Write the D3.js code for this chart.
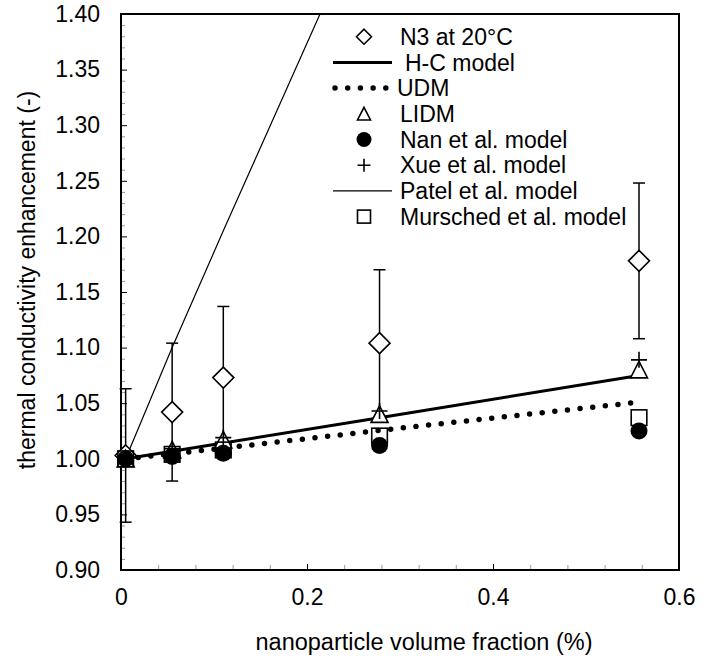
<!DOCTYPE html>
<html>
<head>
<meta charset="utf-8">
<script src="https://cdn.jsdelivr.net/npm/d3@7"></script>
<style>
  html, body { margin: 0; padding: 0; background: #fff; }
  svg { display: block; font-family: "Liberation Sans", Arial, sans-serif; }
</style>
</head>
<body>
<svg id="chart" width="715" height="660"></svg>
<script>
// ---- data ----
const xFrac   = [0.005, 0.055, 0.11, 0.278, 0.557];
const n3      = [1.003, 1.042, 1.073, 1.104, 1.178];
const n3Err   = [0.060, 0.062, 0.064, 0.066, 0.070];
const hcModel = [1.000, 1.0068, 1.0142, 1.037, 1.075];
const udm     = [1.000, 1.0046, 1.0096, 1.0255, 1.051];
const lidm    = [1.000, 1.008, 1.017, 1.040, 1.080];
const nanModel  = [1.000, 1.002, 1.005, 1.012, 1.025];
const xueModel  = [1.000, 1.009, 1.019, 1.043, 1.089];
const patelModel = [1.000, 1.100, 1.205, 1.520, 2.030];
const murshedModel = [1.000, 1.004, 1.008, 1.0205, 1.037];

const xTicks = [0, 0.2, 0.4, 0.6];
const yTicks = [0.90, 0.95, 1.00, 1.05, 1.10, 1.15, 1.20, 1.25, 1.30, 1.35, 1.40];
const legendLabels = ["N3 at 20°C", "H-C model", "UDM", "LIDM", "Nan et al. model",
                      "Xue et al. model", "Patel et al. model", "Mursched et al. model"];
const xTitle = "nanoparticle volume fraction (%)";
const yTitle = "thermal conductivity enhancement (-)";

// ---- layout ----
const svg = d3.select("#chart");
const L = 121, R = 679, T = 14, B = 570;
const x = d3.scaleLinear().domain([0, 0.6]).range([L, R]);
const y = d3.scaleLinear().domain([0.9, 1.4]).range([B, T]);
const FS = 23;
const FF = "Liberation Sans, Arial, sans-serif";

svg.append("defs").append("clipPath").attr("id", "plotclip")
  .append("rect").attr("x", L).attr("y", T).attr("width", R - L).attr("height", B - T);

// minor ticks
const xMinor = d3.range(1, 15).map(i => i * 0.04).filter(v => Math.abs(v / 0.2 - Math.round(v / 0.2)) > 1e-6);
const yMinor = d3.range(0, 51).map(i => 0.9 + i * 0.01).filter(v => Math.abs(v / 0.05 - Math.round(v / 0.05)) > 1e-6);

svg.append("g").attr("transform", `translate(0,${B})`)
  .call(d3.axisBottom(x).tickValues(xMinor).tickSize(-5).tickFormat(""))
  .call(g => g.select(".domain").remove())
  .call(g => g.selectAll("line").attr("stroke", "#999").attr("stroke-width", 1));
svg.append("g").attr("transform", `translate(${L},0)`)
  .call(d3.axisLeft(y).tickValues(yMinor).tickSize(-4).tickFormat(""))
  .call(g => g.select(".domain").remove())
  .call(g => g.selectAll("line").attr("stroke", "#999").attr("stroke-width", 1));

// major ticks + labels
svg.append("g").attr("transform", `translate(0,${B})`)
  .call(d3.axisBottom(x).tickValues(xTicks).tickSize(-6).tickPadding(19).tickFormat(d3.format("~g")))
  .call(g => g.select(".domain").remove())
  .call(g => g.selectAll("line").attr("stroke", "#000").attr("stroke-width", 1))
  .call(g => g.selectAll("text").attr("font-size", FS).attr("font-family", FF).attr("fill", "#000"));
svg.append("g").attr("transform", `translate(${L},0)`)
  .call(d3.axisLeft(y).tickValues(yTicks).tickSize(-6).tickPadding(21).tickFormat(d3.format(".2f")))
  .call(g => g.select(".domain").remove())
  .call(g => g.selectAll("line").attr("stroke", "#000").attr("stroke-width", 1))
  .call(g => g.selectAll("text").attr("font-size", FS).attr("font-family", FF).attr("fill", "#000"));

// frame
svg.append("rect").attr("x", L).attr("y", T).attr("width", R - L).attr("height", B - T)
  .attr("fill", "none").attr("stroke", "#000").attr("stroke-width", 2);

// titles
svg.append("text").attr("x", 424).attr("y", 650).attr("text-anchor", "middle")
  .attr("font-size", 23.5).text(xTitle);
svg.append("text").attr("transform", `translate(35,280) rotate(-90)`).attr("text-anchor", "middle")
  .attr("font-size", FS).text(yTitle);

const plot = svg.append("g").attr("clip-path", "url(#plotclip)");
const pts = arr => xFrac.map((v, i) => [x(v), y(arr[i])]);
const line = d3.line();

// error bars
const eb = svg.append("g").attr("stroke", "#000").attr("stroke-width", 1.5);
xFrac.forEach((v, i) => {
  const cx = x(v), y1 = y(n3[i] + n3Err[i]), y0 = y(n3[i] - n3Err[i]);
  eb.append("line").attr("x1", cx).attr("x2", cx).attr("y1", y0).attr("y2", y1);
  eb.append("line").attr("x1", cx - 6).attr("x2", cx + 6).attr("y1", y0).attr("y2", y0);
  eb.append("line").attr("x1", cx - 6).attr("x2", cx + 6).attr("y1", y1).attr("y2", y1);
});

// lines
plot.append("path").attr("d", line(pts(patelModel))).attr("fill", "none").attr("stroke", "#000").attr("stroke-width", 1.2);
plot.append("path").attr("d", line(pts(hcModel))).attr("fill", "none").attr("stroke", "#000").attr("stroke-width", 3);
plot.append("path").attr("d", line(pts(udm))).attr("fill", "none").attr("stroke", "#000")
  .attr("stroke-width", 5.5).attr("stroke-linecap", "round").attr("stroke-dasharray", "0 12.7");

// marker shapes
function diamond(g, cx, cy, h) {
  g.append("path").attr("d", `M${cx},${cy - h}L${cx + h},${cy}L${cx},${cy + h}L${cx - h},${cy}Z`)
    .attr("fill", "#fff").attr("stroke", "#000").attr("stroke-width", 1.6);
}
function triangle(g, cx, cy, h) {
  g.append("path").attr("d", `M${cx},${cy - h}L${cx + h},${cy + h * 0.95}L${cx - h},${cy + h * 0.95}Z`)
    .attr("fill", "#fff").attr("stroke", "#000").attr("stroke-width", 1.6);
}
function circle(g, cx, cy, r) {
  g.append("circle").attr("cx", cx).attr("cy", cy).attr("r", r).attr("fill", "#000");
}
function plus(g, cx, cy, h) {
  g.append("path").attr("d", `M${cx - h},${cy}H${cx + h}M${cx},${cy - h}V${cy + h}`)
    .attr("stroke", "#000").attr("stroke-width", 1.6).attr("fill", "none");
}
function square(g, cx, cy, h) {
  g.append("rect").attr("x", cx - h).attr("y", cy - h).attr("width", 2 * h).attr("height", 2 * h)
    .attr("fill", "none").attr("stroke", "#000").attr("stroke-width", 1.6);
}

const mk = svg.append("g");
pts(n3).forEach(p => diamond(mk, p[0], p[1], 10.5));
pts(lidm).forEach(p => triangle(mk, p[0], p[1], 8.5));
pts(nanModel).forEach(p => circle(mk, p[0], p[1], 8.5));
pts(xueModel).forEach(p => plus(mk, p[0], p[1], 8));
pts(murshedModel).forEach(p => square(mk, p[0], p[1], 7.8));

// legend
const lg = svg.append("g");
const lgX = 364, lgY0 = 36.7, lgDY = 25.7;
const lgTextX = [400, 405, 397, 400, 400, 400, 400, 400];
legendLabels.forEach((lab, i) => {
  const cy = lgY0 + i * lgDY;
  if (i === 0) diamond(lg, lgX, cy, 7.5);
  if (i === 1) lg.append("line").attr("x1", 333).attr("x2", 392).attr("y1", cy).attr("y2", cy).attr("stroke", "#000").attr("stroke-width", 3);
  if (i === 2) lg.append("line").attr("x1", 335).attr("x2", 386).attr("y1", cy).attr("y2", cy).attr("stroke", "#000")
      .attr("stroke-width", 5.5).attr("stroke-linecap", "round").attr("stroke-dasharray", "0 12.7");
  if (i === 3) triangle(lg, lgX, cy, 6.5);
  if (i === 4) circle(lg, lgX, cy, 7.5);
  if (i === 5) plus(lg, lgX, cy, 6.5);
  if (i === 6) lg.append("line").attr("x1", 333).attr("x2", 392).attr("y1", cy).attr("y2", cy).attr("stroke", "#000").attr("stroke-width", 1.2);
  if (i === 7) square(lg, lgX, cy, 6.5);
  lg.append("text").attr("x", lgTextX[i]).attr("y", cy).attr("dy", "0.36em").attr("font-size", FS).text(lab);
});
</script>
</body>
</html>
